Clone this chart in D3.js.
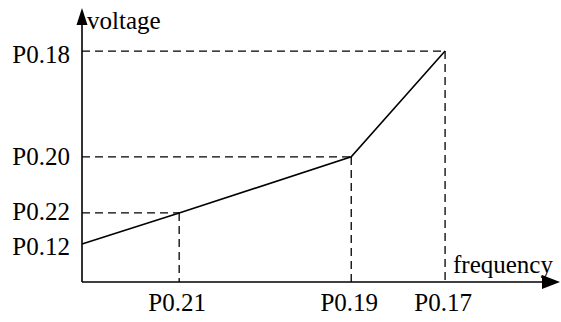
<!DOCTYPE html>
<html>
<head>
<meta charset="utf-8">
<script src="https://cdn.jsdelivr.net/npm/d3@7"></script>
</head>
<body style="margin:0;background:#fff">
<div class="chart"></div>
<script>
// break points of the V/F curve, in axis units (0-100)
var freqLabels = ['P0.21', 'P0.19', 'P0.17'];
var freqValues = [20.5, 56.8, 76.6];
var voltLabels = ['P0.12', 'P0.22', 'P0.20', 'P0.18'];
var voltValues = [14, 25.4, 46, 84.9];
// curve: starts on the voltage axis at P0.12
var curveX = [0, 20.5, 56.8, 76.6];
var curveY = [14, 25.4, 46, 84.9];

var width = 561, height = 322;
var x0 = 82, y0 = 282;
var font = '"Liberation Serif", "DejaVu Serif", serif';

var svg = d3.select('.chart')
  .append('svg')
    .attr('width', width)
    .attr('height', height);

var x = d3.scaleLinear().domain([0, 100]).range([x0, 556]);
var y = d3.scaleLinear().domain([0, 100]).range([y0, 10]);

// dashed guides
var guides = svg.append('g')
    .attr('stroke', '#000')
    .attr('stroke-width', 1.3)
    .attr('stroke-dasharray', '8,5')
    .attr('fill', 'none');

curveX.slice(1).forEach(function(fx, i) {
  var vy = curveY[i + 1];
  guides.append('line')
    .attr('x1', x(0)).attr('x2', x(fx))
    .attr('y1', y(vy)).attr('y2', y(vy));
  guides.append('line')
    .attr('x1', x(fx)).attr('x2', x(fx))
    .attr('y1', y(vy)).attr('y2', y(0));
});

// the curve
var line = d3.line()
  .x(function(d) { return x(d[0]); })
  .y(function(d) { return y(d[1]); });

svg.append('path')
  .datum(d3.zip(curveX, curveY))
  .attr('d', line)
  .attr('fill', 'none')
  .attr('stroke', '#000')
  .attr('stroke-width', 1.6);

// axes with arrows
svg.append('line')
  .attr('x1', x0).attr('x2', x0)
  .attr('y1', y0).attr('y2', 20)
  .attr('stroke', '#000').attr('stroke-width', 1.6);
svg.append('path')
  .attr('d', 'M' + x0 + ',8 L' + (x0 - 5.5) + ',25 L' + (x0 + 5.5) + ',25 Z')
  .attr('fill', '#000');

svg.append('line')
  .attr('x1', x0).attr('x2', 545)
  .attr('y1', y0).attr('y2', y0)
  .attr('stroke', '#000').attr('stroke-width', 1.6);
svg.append('path')
  .attr('d', 'M560,' + y0 + ' L542,' + (y0 - 7) + ' L542,' + (y0 + 7) + ' Z')
  .attr('fill', '#000');

var labels = svg.append('g')
    .attr('font-family', font)
    .attr('font-size', 25)
    .attr('fill', '#000');

// axis titles
labels.append('text')
  .attr('x', 87).attr('y', 29)
  .attr('font-family', font)
  .text('voltage');

labels.append('text')
  .attr('x', 453).attr('y', 273)
  .attr('font-family', font)
  .text('frequency');

// tick labels
var yNudge = [11, 7.5, 8, 12];
labels.selectAll('.vlab')
  .data(voltLabels)
  .enter()
  .append('text')
    .attr('class', 'vlab')
    .attr('x', 70)
    .attr('y', function(d, i) { return y(voltValues[i]) + yNudge[i]; })
    .attr('text-anchor', 'end')
    .attr('font-family', font)
    .text(function(d) { return d; });

labels.selectAll('.flab')
  .data(freqLabels)
  .enter()
  .append('text')
    .attr('class', 'flab')
    .attr('x', function(d, i) { return x(freqValues[i]) - 2; })
    .attr('y', 311)
    .attr('text-anchor', 'middle')
    .attr('font-family', font)
    .text(function(d) { return d; });
</script>
</body>
</html>
